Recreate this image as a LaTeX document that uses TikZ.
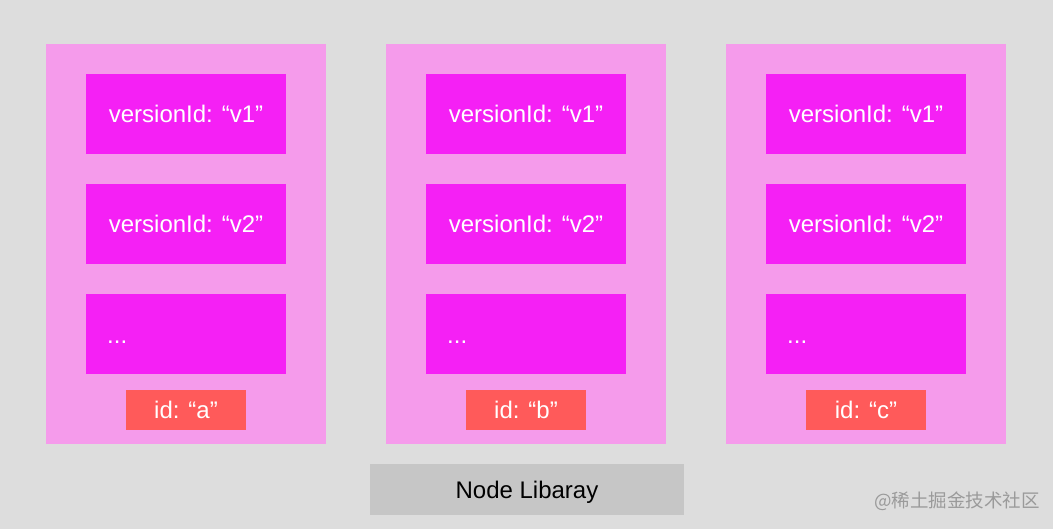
\documentclass[tikz,border=0pt]{standalone}
\usepackage{fontspec}
\setmainfont{Liberation Sans}
\newfontfamily\cjkfont{Noto Sans CJK SC}
\definecolor{bg}{HTML}{DDDDDD}
\definecolor{outerc}{HTML}{F59BEB}
\definecolor{innerc}{HTML}{F520F5}
\definecolor{idc}{HTML}{FF5A5A}
\definecolor{greyc}{HTML}{C6C6C6}
\definecolor{wm}{HTML}{9A9A9A}
\begin{document}
\begin{tikzpicture}[x=1pt,y=-1pt,
  outerbox/.style={fill=outerc,draw=none,minimum width=280pt,minimum height=400pt,inner sep=0pt},
  verbox/.style={fill=innerc,draw=none,minimum width=200pt,minimum height=80pt,inner sep=0pt,text=white,font=\fontsize{24}{28}\selectfont},
  idbox/.style={fill=idc,draw=none,minimum width=120pt,minimum height=40pt,inner sep=0pt,text=white,font=\fontsize{24}{28}\selectfont},
  libbox/.style={fill=greyc,draw=none,minimum width=314pt,minimum height=51pt,inner sep=0pt,text=black,font=\fontsize{24}{28}\selectfont},
  dots/.style={text=white,font=\fontsize{24}{28}\selectfont,anchor=base west,inner sep=0pt}]
\fill[bg] (0,0) rectangle (1053,529);
\useasboundingbox (0,0) rectangle (1053,529);
\foreach \i/\x/\l in {1/46/a,2/386/b,3/726/c}{
  \node[outerbox] (o\i) at (\x+140,244) {};
  \node[verbox] (va\i) at (\x+140,114) {versionId: “v1”};
  \node[verbox] (vb\i) at (\x+140,224) {versionId: “v2”};
  \node[verbox] (vc\i) at (\x+140,334) {};
  \node[dots] (d\i) at (\x+61,344) {...};
  \node[idbox] (id\i) at (\x+140,410) {id: “\l”};
}
\node[libbox] (lib) at (527,489.5) {};
\node[text=black,font=\fontsize{24}{28}\selectfont,anchor=base,inner sep=0pt] (libt) at (527,498) {Node Libaray};
\node[text=wm,font=\cjkfont\fontsize{18.5}{20}\selectfont,anchor=east,inner sep=0pt] (wmk) at (1040,501) {@稀土掘金技术社区};
\end{tikzpicture}
\end{document}
